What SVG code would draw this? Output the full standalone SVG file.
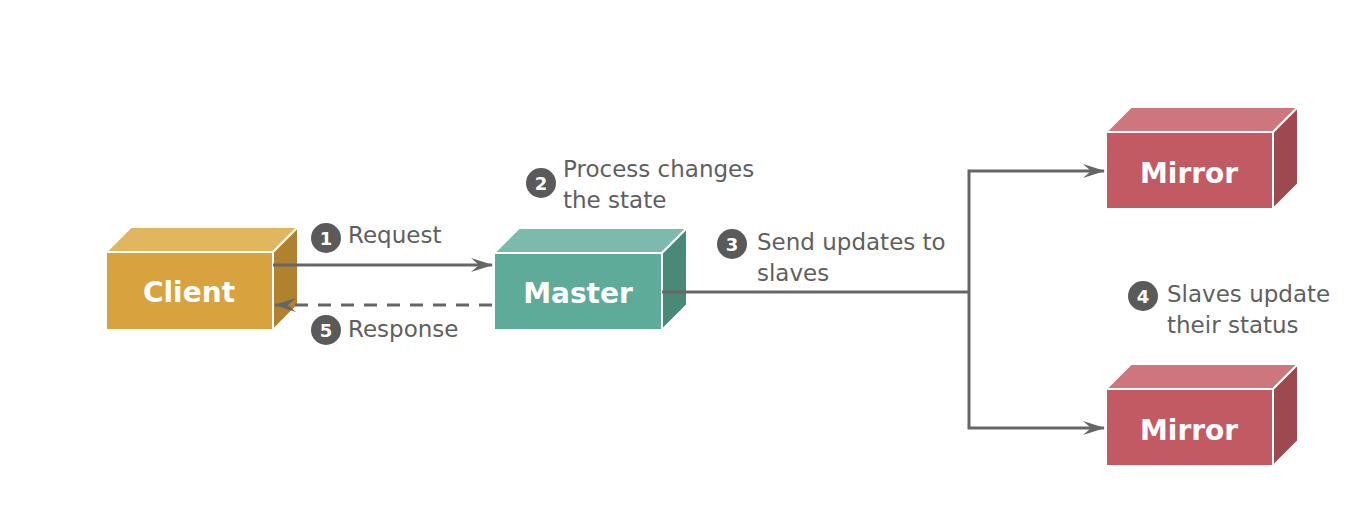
<svg xmlns="http://www.w3.org/2000/svg" width="1366" height="506" viewBox="0 0 1366 506">
<defs>
<marker id="arr" markerUnits="userSpaceOnUse" markerWidth="26" markerHeight="18" viewBox="-23 -9 26 18" refX="0" refY="0" orient="auto">
<path d="M1,0 L-21,-7 L-13,0 L-21,7 Z" fill="#666666"/>
</marker>
<style>
.face{stroke:#ffffff;stroke-width:2;stroke-linejoin:round}
.lbl{font-family:"DejaVu Sans","Liberation Sans",sans-serif;font-size:23px;fill:#5f5f5f}
.nm{font-family:"DejaVu Sans","Liberation Sans",sans-serif;font-size:28px;font-weight:bold;fill:#ffffff;text-anchor:middle}
.bd{fill:#5a5a5a}
.bn{font-family:"DejaVu Sans","Liberation Sans",sans-serif;font-size:18px;font-weight:bold;fill:#ffffff;text-anchor:middle}
.ln{fill:none;stroke:#666666;stroke-width:3}
</style>
</defs>
<rect width="1366" height="506" fill="#ffffff"/>
<g id="client">
<polygon class="face" points="106,252 131,227 298,227 273,252" fill="#e0b65e"/>
<polygon class="face" points="273,252 298,227 298,305 273,330" fill="#b08230"/>
<rect class="face" x="106" y="252" width="167" height="78" fill="#d8a33e"/>
<text class="nm" x="189" y="302">Client</text>
</g>
<g id="master">
<polygon class="face" points="494,253 519,228 687,228 662,253" fill="#7db9ac"/>
<polygon class="face" points="662,253 687,228 687,305 662,330" fill="#4a8878"/>
<rect class="face" x="494" y="253" width="168" height="77" fill="#5fab99"/>
<text class="nm" x="578" y="303">Master</text>
</g>
<g id="mirror1">
<polygon class="face" points="1106,132 1131,107 1298,107 1273,132" fill="#ce767e"/>
<polygon class="face" points="1273,132 1298,107 1298,184 1273,209" fill="#9e4850"/>
<rect class="face" x="1106" y="132" width="167" height="77" fill="#c25a63"/>
<text class="nm" x="1189" y="183">Mirror</text>
</g>
<g id="mirror2">
<polygon class="face" points="1106,389 1131,364 1298,364 1273,389" fill="#ce767e"/>
<polygon class="face" points="1273,389 1298,364 1298,441 1273,466" fill="#9e4850"/>
<rect class="face" x="1106" y="389" width="167" height="77" fill="#c25a63"/>
<text class="nm" x="1189" y="440">Mirror</text>
</g>
<g id="connectors">
<line class="ln" x1="273" y1="265" x2="492" y2="265" marker-end="url(#arr)"/>
<line class="ln" x1="492" y1="305" x2="275" y2="305" stroke-dasharray="13,10" marker-end="url(#arr)"/>
<polyline class="ln" points="662,292 969,292"/>
<polyline class="ln" points="969,292 969,171 1104,171" marker-end="url(#arr)"/>
<polyline class="ln" points="969,292 969,428 1104,428" marker-end="url(#arr)"/>
</g>
<g id="step1">
<circle class="bd" cx="326" cy="238" r="15"/>
<text class="bn" x="326" y="244.5">1</text>
<text class="lbl" x="348" y="243">Request</text>
</g>
<g id="step2">
<circle class="bd" cx="541" cy="183" r="15"/>
<text class="bn" x="541" y="189.5">2</text>
<text class="lbl" x="563" y="177">Process changes</text>
<text class="lbl" x="563" y="208">the state</text>
</g>
<g id="step3">
<circle class="bd" cx="732" cy="244" r="15"/>
<text class="bn" x="732" y="250.5">3</text>
<text class="lbl" x="757" y="250">Send updates to</text>
<text class="lbl" x="757" y="281">slaves</text>
</g>
<g id="step4">
<circle class="bd" cx="1143" cy="296" r="15"/>
<text class="bn" x="1143" y="302.5">4</text>
<text class="lbl" x="1167" y="302">Slaves update</text>
<text class="lbl" x="1167" y="333">their status</text>
</g>
<g id="step5">
<circle class="bd" cx="326" cy="330" r="15"/>
<text class="bn" x="326" y="336.5">5</text>
<text class="lbl" x="348" y="337">Response</text>
</g>
</svg>
